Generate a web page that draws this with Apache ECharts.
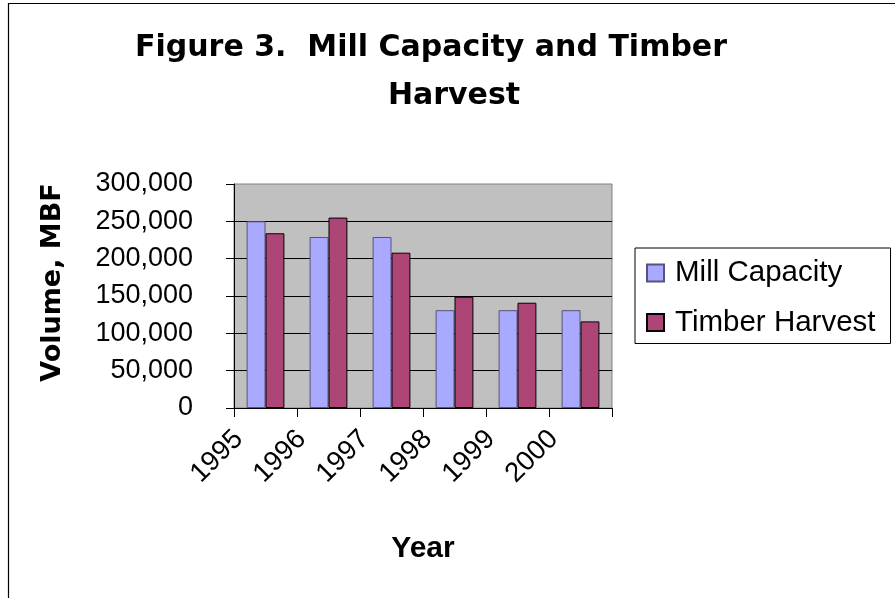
<!DOCTYPE html>
<html><head><meta charset="utf-8">
<script src="https://cdn.jsdelivr.net/npm/echarts@6/dist/echarts.min.js"></script>
<style>html,body{margin:0;padding:0;background:#fff}#c{width:895px;height:598px}</style>
</head><body><div id="c"></div>
<script>
const years = ['1995', '1996', '1997', '1998', '1999', '2000'];
const millCapacity = [250000, 229000, 229000, 131000, 131000, 131000];
const timberHarvest = [234000, 255000, 208000, 149000, 141000, 116000];
const seriesNames = ['Mill Capacity', 'Timber Harvest'];
const titleLines = ['Figure 3.  Mill Capacity and Timber', 'Harvest'];
const yAxisTitle = 'Volume, MBF';
const xAxisTitle = 'Year';

const ARIAL = '"Liberation Sans", Arial, sans-serif';
const WIDE = '"DejaVu Sans", Verdana, sans-serif';

const chart = echarts.init(document.getElementById('c'), null, { renderer: 'canvas' });
chart.setOption({
  animation: false,
  backgroundColor: '#ffffff',
  title: [
    { text: titleLines[0], left: 431, top: 33, textAlign: 'center', padding: 0,
      textStyle: { fontFamily: WIDE, fontWeight: 'bold', fontSize: 30, color: '#000' } },
    { text: titleLines[1], left: 454, top: 81, textAlign: 'center', padding: 0,
      textStyle: { fontFamily: WIDE, fontWeight: 'bold', fontSize: 30, color: '#000' } }
  ],
  graphic: [
    { type: 'polyline', silent: true, z: 100,
      shape: { points: [[8.5, 598], [8.5, 3.5], [895, 3.5]] },
      style: { stroke: '#000', lineWidth: 1.2, fill: null } }
  ],
  legend: {
    orient: 'vertical', left: 635, top: 248,
    padding: [10, 15, 6, 11],
    borderColor: '#000', borderWidth: 1, backgroundColor: '#fff',
    itemWidth: 17, itemHeight: 17, itemGap: 19.5,
    icon: 'rect',
    textStyle: { fontFamily: ARIAL, fontSize: 29.5, lineHeight: 30, color: '#000', padding: [0, 0, 0, 6] },
    data: seriesNames
  },
  grid: {
    left: 234, top: 184, right: 283, bottom: 190,
    show: true, backgroundColor: '#C0C0C0', borderColor: '#808080', borderWidth: 1
  },
  xAxis: {
    type: 'category', data: years,
    name: xAxisTitle, nameLocation: 'middle', nameGap: 126,
    nameTextStyle: { fontFamily: ARIAL, fontWeight: 'bold', fontSize: 30, color: '#000' },
    axisLine: { show: true, lineStyle: { color: '#000', width: 1 } },
    axisTick: { show: true, length: 9, lineStyle: { color: '#000' } },
    axisLabel: { rotate: 45, margin: 0, padding: [0, 38, 0, 0], interval: 0,
      fontFamily: ARIAL, fontSize: 27.5, color: '#000' },
    splitLine: { show: false }
  },
  yAxis: {
    type: 'value', min: 0, max: 300000, interval: 50000,
    name: yAxisTitle, nameLocation: 'middle', nameGap: 168, nameRotate: 90,
    nameTextStyle: { fontFamily: WIDE, fontWeight: 'bold', fontSize: 27, color: '#000', padding: [0, 0, 0, 27] },
    axisLine: { show: true, lineStyle: { color: '#000', width: 1 } },
    axisTick: { show: true, length: 8, lineStyle: { color: '#000' } },
    axisLabel: { margin: 41, fontFamily: ARIAL, fontSize: 27, color: '#000',
      formatter: v => v.toLocaleString('en-US') },
    splitLine: { show: true, showMaxLine: false, lineStyle: { color: '#000', width: 1 } }
  },
  series: [
    { name: seriesNames[0], type: 'bar', data: millCapacity,
      barGap: '0%', barCategoryGap: '40%',
      itemStyle: { color: '#A9A9FF', borderColor: '#55557a', borderWidth: 1 },
      emphasis: { disabled: true } },
    { name: seriesNames[1], type: 'bar', data: timberHarvest,
      barGap: '0%', barCategoryGap: '40%',
      itemStyle: { color: '#AD4677', borderColor: '#000', borderWidth: 1 },
      emphasis: { disabled: true } }
  ]
});
</script>
</body></html>
